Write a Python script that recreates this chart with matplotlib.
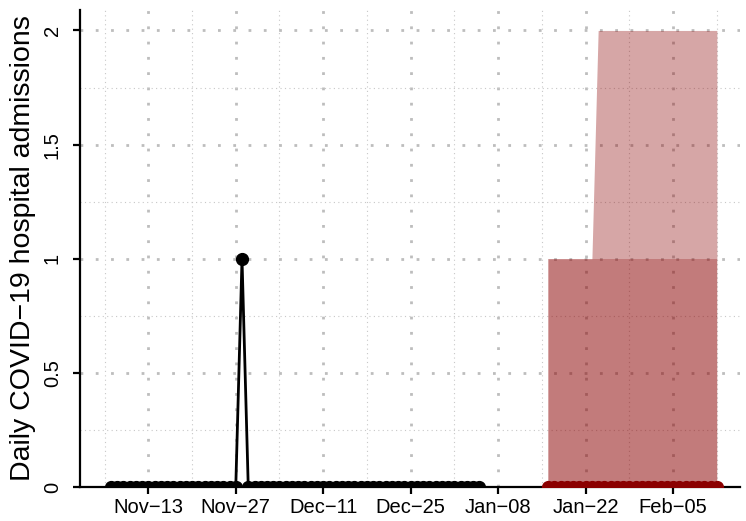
import numpy as np
import pandas as pd
import matplotlib
matplotlib.use('Agg')
import matplotlib.pyplot as plt
import matplotlib.dates as mdates

plt.rcParams['font.family'] = ['Liberation Sans', 'DejaVu Sans']

# observed daily admissions, Nov 07 .. Jan 05
obs_start = '2022-11-07'
obs_vals = [0, 0, 0, 0, 0, 0, 0, 0, 0, 0, 0, 0, 0, 0, 0, 0, 0, 0, 0, 0,
            0, 1, 0, 0, 0, 0, 0, 0, 0, 0, 0, 0, 0, 0, 0, 0, 0, 0, 0, 0,
            0, 0, 0, 0, 0, 0, 0, 0, 0, 0, 0, 0, 0, 0, 0, 0, 0, 0, 0, 0]

# forecast, Jan 16 .. Feb 12: median, 50% and 95% upper bounds
fc_start = '2023-01-16'
fc_median = [0, 0, 0, 0, 0, 0, 0, 0, 0, 0, 0, 0, 0, 0,
             0, 0, 0, 0, 0, 0, 0, 0, 0, 0, 0, 0, 0, 0]
fc_lower = [0, 0, 0, 0, 0, 0, 0, 0, 0, 0, 0, 0, 0, 0,
            0, 0, 0, 0, 0, 0, 0, 0, 0, 0, 0, 0, 0, 0]
fc_upper50 = [1, 1, 1, 1, 1, 1, 1, 1, 1, 1, 1, 1, 1, 1,
              1, 1, 1, 1, 1, 1, 1, 1, 1, 1, 1, 1, 1, 1]
fc_upper95 = [1, 1, 1, 1, 1, 1, 1, 1, 2, 2, 2, 2, 2, 2,
              2, 2, 2, 2, 2, 2, 2, 2, 2, 2, 2, 2, 2, 2]

major_ticks = ['2022-11-13', '2022-11-27', '2022-12-11', '2022-12-25',
               '2023-01-08', '2023-01-22', '2023-02-05']
minor_ticks = ['2022-11-06', '2022-11-20', '2022-12-04', '2022-12-18',
               '2023-01-01', '2023-01-15', '2023-01-29', '2023-02-12']
tick_labels = ['Nov\u221213', 'Nov\u221227', 'Dec\u221211', 'Dec\u221225',
               'Jan\u221208', 'Jan\u221222', 'Feb\u221205']

obs_dates = pd.date_range(obs_start, periods=len(obs_vals), freq='D')
fc_dates = pd.date_range(fc_start, periods=len(fc_median), freq='D')

fig = plt.figure(figsize=(7.46, 5.21), dpi=100)
ax = fig.add_axes([0.107, 0.065, 0.885, 0.916])

ax.fill_between(fc_dates, fc_lower, fc_upper95, color='darkred', alpha=0.35,
                linewidth=0, zorder=2)
ax.fill_between(fc_dates, fc_lower, fc_upper50, color='darkred', alpha=0.26,
                linewidth=0, zorder=2)
ax.plot(fc_dates, fc_median, color='darkred', lw=2, marker='o', ms=8.5, zorder=3)
ax.plot(obs_dates, obs_vals, color='black', lw=2, marker='o', ms=8.5, zorder=4)

ax.set_xlim(pd.Timestamp('2022-11-02') + pd.Timedelta(hours=1),
            pd.Timestamp('2023-02-15') + pd.Timedelta(hours=17))
ax.set_ylim(0, 2.09)

ax.set_xticks(pd.to_datetime(major_ticks))
ax.set_xticklabels(tick_labels)
ax.set_xticks(pd.to_datetime(minor_ticks), minor=True)
ax.set_yticks([0, 0.5, 1, 1.5, 2])
ax.set_yticklabels(['0', '0.5', '1', '1.5', '2'], rotation=90, va='center')
ax.set_yticks([0.25, 0.75, 1.25, 1.75], minor=True)

ax.grid(which='major', color='#bdbdbd', lw=2, linestyle=(0, (1, 4.5)), zorder=0)
ax.grid(which='minor', color='#c8c8c8', lw=0.8, linestyle=(0, (1, 3)), zorder=0)
ax.set_axisbelow(True)

for s in ['top', 'right']:
    ax.spines[s].set_visible(False)
for s in ['left', 'bottom']:
    ax.spines[s].set_linewidth(1.6)

ax.tick_params(which='major', length=5, width=1.6, labelsize=14.5, pad=3)
ax.tick_params(axis='y', which='major', pad=8)
ax.tick_params(which='minor', length=0)
ax.set_ylabel('Daily COVID\u221219 hospital admissions', fontsize=20.5, labelpad=5)

fig.savefig('out.png', dpi=100)
